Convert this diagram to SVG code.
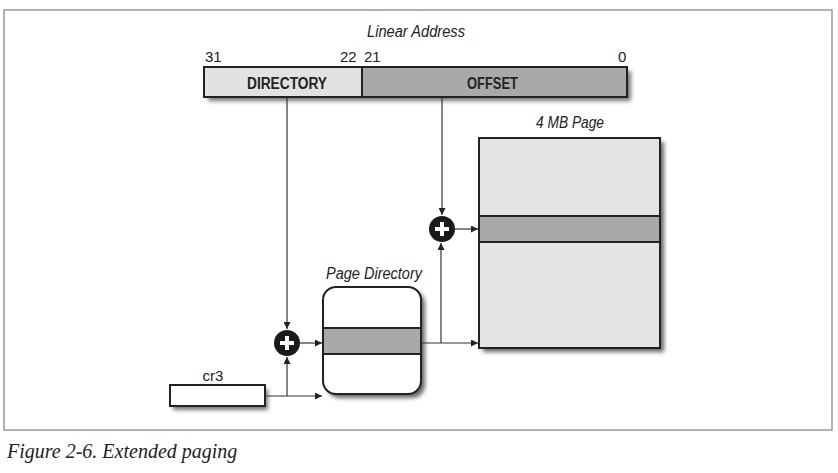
<svg xmlns="http://www.w3.org/2000/svg" width="838" height="473" viewBox="0 0 838 473">
<style>
.lbl{font-family:"Liberation Sans",Arial,sans-serif;font-size:15px;fill:#222}
.it{font-style:italic;font-size:16px}
.bold{font-weight:bold;font-size:16px}
.line{stroke:#333;stroke-width:1.2;fill:none}
.box{stroke:#222;stroke-width:2}
.cap{font-family:"Liberation Serif","Times New Roman",serif;font-style:italic;font-size:20px;fill:#222}
</style>
<defs>
<marker id="arr" viewBox="0 0 10 10" refX="10" refY="5" markerWidth="9" markerHeight="7" markerUnits="userSpaceOnUse" orient="auto">
<path d="M0,0 L10,5 L0,10 z" fill="#222"/>
</marker>
<filter id="sh" x="-20%" y="-20%" width="140%" height="140%">
<feGaussianBlur stdDeviation="2"/>
</filter>
</defs>
<rect x="0" y="0" width="838" height="473" fill="#fff"/>
<rect x="4" y="10" width="828" height="420" fill="none" stroke="#999" stroke-width="1.5"/>
<text class="cap" x="7" y="458">Figure 2-6. Extended paging</text>

<g id="linear-address">
<text class="lbl it" x="367" y="37" textLength="98" lengthAdjust="spacingAndGlyphs">Linear Address</text>
<text class="lbl" x="205" y="62">31</text>
<text class="lbl" x="340" y="62">22</text>
<text class="lbl" x="364" y="62">21</text>
<text class="lbl" x="618" y="62">0</text>
<rect x="208" y="71" width="423" height="30" fill="#777" filter="url(#sh)"/>
<rect x="204" y="67" width="158" height="30" fill="#e2e2e2" class="box"/>
<rect x="362" y="67" width="265" height="30" fill="#a9a9a9" class="box"/>
<text class="lbl bold" x="247" y="89" textLength="80" lengthAdjust="spacingAndGlyphs">DIRECTORY</text>
<text class="lbl bold" x="467" y="89" textLength="51" lengthAdjust="spacingAndGlyphs">OFFSET</text>
</g>

<g id="cr3">
<text class="lbl" x="213" y="381" text-anchor="middle">cr3</text>
<rect x="173" y="389" width="95" height="21" fill="#777" filter="url(#sh)"/>
<rect x="170" y="385" width="95" height="21" fill="#fff" class="box"/>
</g>

<g id="page-directory">
<text class="lbl it" x="326" y="279" textLength="96" lengthAdjust="spacingAndGlyphs">Page Directory</text>
<rect x="327" y="291" width="98" height="107" rx="13" fill="#666" filter="url(#sh)"/>
<rect x="323" y="287" width="98" height="107" rx="13" fill="#fff" class="box"/>
<rect x="323" y="328" width="98" height="26" fill="#a9a9a9" class="box"/>
</g>

<g id="page-4mb">
<text class="lbl it" x="536" y="128" textLength="68" lengthAdjust="spacingAndGlyphs">4 MB Page</text>
<rect x="483" y="142" width="181" height="210" fill="#666" filter="url(#sh)"/>
<rect x="479" y="138" width="181" height="210" fill="#e3e3e3" class="box"/>
<rect x="479" y="216" width="181" height="26" fill="#a9a9a9" class="box"/>
</g>

<g id="add1">
<circle cx="287" cy="343" r="13" fill="#1a1a1a"/>
<path d="M287,336 V350 M280,343 H294" stroke="#fff" stroke-width="4"/>
</g>
<g id="add2">
<circle cx="442" cy="229" r="13" fill="#1a1a1a"/>
<path d="M442,222 V236 M435,229 H449" stroke="#fff" stroke-width="4"/>
</g>

<g id="connectors">
<path class="line" d="M287,97 V329" marker-end="url(#arr)"/>
<path class="line" d="M442,97 V215" marker-end="url(#arr)"/>
<path class="line" d="M265,396 H322" marker-end="url(#arr)"/>
<path class="line" d="M287,396 V357" marker-end="url(#arr)"/>
<path class="line" d="M300,343 H322" marker-end="url(#arr)"/>
<path class="line" d="M421,343 H478" marker-end="url(#arr)"/>
<path class="line" d="M441,343 V243" marker-end="url(#arr)"/>
<path class="line" d="M455,229 H478" marker-end="url(#arr)"/>
</g>
</svg>
